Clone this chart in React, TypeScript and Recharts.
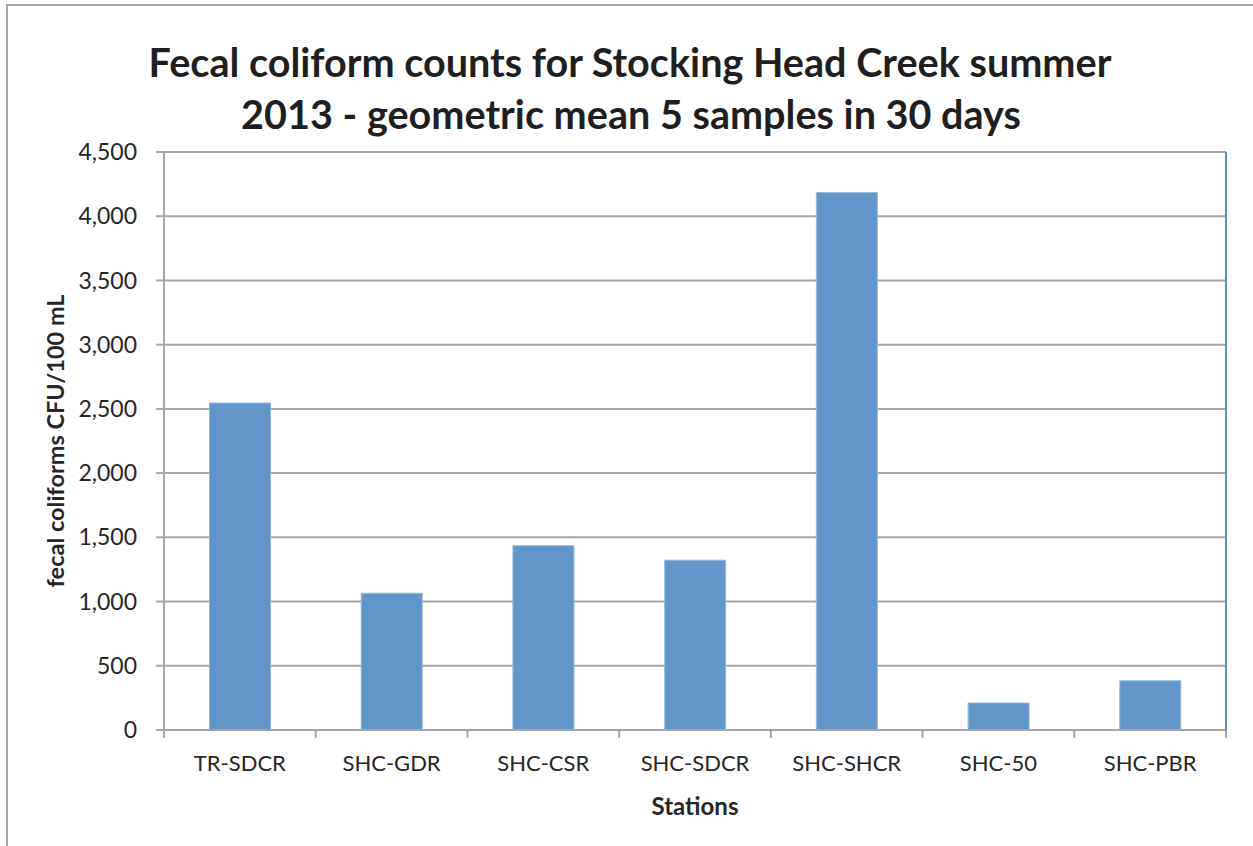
import { BarChart, Bar, XAxis, YAxis, CartesianGrid } from 'recharts';

const stations = ['TR-SDCR', 'SHC-GDR', 'SHC-CSR', 'SHC-SDCR', 'SHC-SHCR', 'SHC-50', 'SHC-PBR'];
const geoMeans = [2545, 1065, 1435, 1322, 4185, 210, 384];
const yTicks = [0, 500, 1000, 1500, 2000, 2500, 3000, 3500, 4000, 4500];
const titleLines = [
  'Fecal coliform counts for Stocking Head Creek summer',
  '2013 - geometric mean 5 samples in 30 days',
];
const yLabel = 'fecal coliforms CFU/100 mL';
const xLabel = 'Stations';

const data = stations.map((station, i) => ({ station, value: geoMeans[i] }));

const W = 1253;
const H = 846;
const PLOT = { left: 164, right: 1226, top: 152, bottom: 730 };
const FONT = 'Lato, "Open Sans", sans-serif';
const GRID = '#a6a6a6';
const BLUE = '#5b90c8';
const TEXT = '#262626';

const fmt = (v: number) => v.toLocaleString('en-US');

// excel-style category axis: tick marks sit between the categories
function StationTick(props: any) {
  const { x, y, payload, index } = props;
  const band = (PLOT.right - PLOT.left) / stations.length;
  const left = x - band / 2;
  const right = x + band / 2;
  return (
    <g>
      <line x1={left} x2={left} y1={PLOT.bottom} y2={PLOT.bottom + 8} stroke={GRID} strokeWidth={2} />
      {index === stations.length - 1 && (
        <line x1={right} x2={right} y1={PLOT.bottom} y2={PLOT.bottom + 8} stroke={GRID} strokeWidth={2} />
      )}
      <text x={x} y={y} dy="0.71em" textAnchor="middle" fill={TEXT} fontSize={22} fontFamily={FONT}>
        {payload.value}
      </text>
    </g>
  );
}

export default function App() {
  return (
    <div style={{ position: 'fixed', left: 0, top: 0, width: W, height: H, overflow: 'hidden', background: '#fff' }}>
      <div
        style={{
          position: 'absolute',
          left: 6,
          top: 4,
          width: W + 40,
          height: H + 40,
          border: '2px solid #a6a6a6',
        }}
      />
      <div style={{ position: 'absolute', left: 0, top: 0 }}>
        <BarChart width={W} height={H} data={data} margin={{ top: PLOT.top, right: 0, bottom: 0, left: 0 }} barCategoryGap="30%">
          <CartesianGrid vertical={false} stroke={GRID} strokeWidth={2} />
          <XAxis
            dataKey="station"
            height={H - PLOT.bottom}
            tickLine={false}
            tickSize={8}
            tickMargin={17}
            axisLine={{ stroke: GRID, strokeWidth: 2 }}
            tick={<StationTick />}
            interval={0}
          />
          <XAxis
            xAxisId="frame"
            dataKey="station"
            orientation="top"
            height={0}
            tick={false}
            tickLine={false}
            axisLine={{ stroke: BLUE, strokeWidth: 2 }}
          />
          <YAxis
            width={PLOT.left}
            domain={[0, 4500]}
            ticks={yTicks}
            tickFormatter={fmt}
            tickSize={8}
            tickMargin={19}
            tickLine={{ stroke: GRID, strokeWidth: 2 }}
            axisLine={{ stroke: GRID, strokeWidth: 2 }}
            tick={{ fill: TEXT, fontSize: 23, fontFamily: FONT }}
            interval={0}
          />
          <YAxis
            yAxisId="frame"
            orientation="right"
            width={W - PLOT.right}
            domain={[0, 1]}
            tick={false}
            tickLine={false}
            axisLine={{ stroke: BLUE, strokeWidth: 2 }}
          />
          <Bar dataKey="value" fill="#6196ca" stroke="#94b9df" strokeWidth={1} isAnimationActive={false} />
        </BarChart>
      </div>
      <svg width={W} height={H} style={{ position: 'absolute', left: 0, top: 0, pointerEvents: 'none' }}>
        <text x={630} y={77} textAnchor="middle" fontFamily={FONT} fontWeight={700} fontSize={39.6} fill="#1f1f1f">
          {titleLines[0]}
        </text>
        <text x={631} y={129} textAnchor="middle" fontFamily={FONT} fontWeight={700} fontSize={39.6} fill="#1f1f1f">
          {titleLines[1]}
        </text>
        <text
          x={0}
          y={0}
          transform={`translate(64, 441) rotate(-90)`}
          textAnchor="middle"
          fontFamily={FONT}
          fontWeight={700}
          fontSize={23.5}
          fill={TEXT}
        >
          {yLabel}
        </text>
        <text x={695} y={815} textAnchor="middle" fontFamily={FONT} fontWeight={700} fontSize={24} fill={TEXT}>
          {xLabel}
        </text>
      </svg>
    </div>
  );
}
